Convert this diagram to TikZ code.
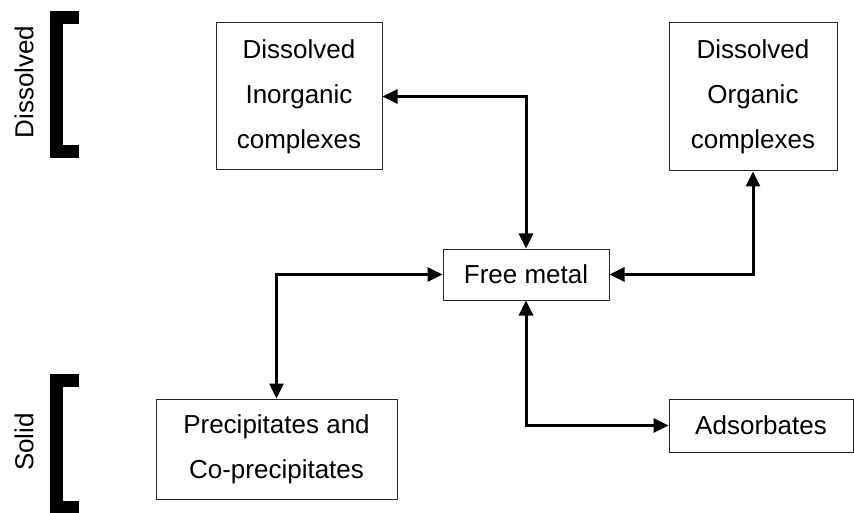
\documentclass[tikz,border=0pt]{standalone}
\usepackage{fontspec}
\setmainfont{Liberation Sans}
\usetikzlibrary{arrows.meta}
\tikzstyle{species} = [rectangle,
draw=black!85,
line width=1pt,
fill=white,
align=center,
inner sep=0pt,
font=\fontsize{26}{45}\selectfont]
\tikzstyle{phase} = [rotate=90, font=\fontsize{26}{31}\selectfont]
\tikzstyle{bracket} = [line width=13pt, miter limit=10]
\tikzstyle{arrow} = [line width=3pt,{Triangle[length=15pt,width=14pt]}-{Triangle[length=15pt,width=14pt]}]

\begin{document}
\begin{tikzpicture}[x=1pt, y=-1pt]
    \useasboundingbox (0,0) rectangle (854,513);
    % phase brackets
    \draw [bracket] (79,18) -- (56,18) -- (56,152) -- (79,152);
    \draw [bracket] (79,380) -- (56,380) -- (56,507) -- (79,507);
    \node (dissolved) [phase] at (24,82) {Dissolved};
    \node (solid) [phase] at (24,442) {Solid};

    \node (inorg) [species, minimum width=166pt, minimum height=147pt] at (299,96.5) {Dissolved\\Inorganic\\complexes};
    \node (org) [species, minimum width=168pt, minimum height=148pt] at (753,97) {Dissolved\\Organic\\complexes};
    \node (free) [species, minimum width=166pt, minimum height=51pt] at (526,274.5) {Free metal};
    \node (prec) [species, minimum width=241pt, minimum height=100pt] at (276.5,449) {Precipitates and\\Co-precipitates};
    \node (ads) [species, minimum width=184pt, minimum height=53pt] at (761,425.5) {Adsorbates};

    \draw [arrow] (inorg.east) -| (free.north);
    \draw [arrow] (free.east) -| (org.south);
    \draw [arrow] (free.west) -| (prec.north);
    \draw [arrow] (free.south) |- (ads.west);
\end{tikzpicture}
\end{document}
